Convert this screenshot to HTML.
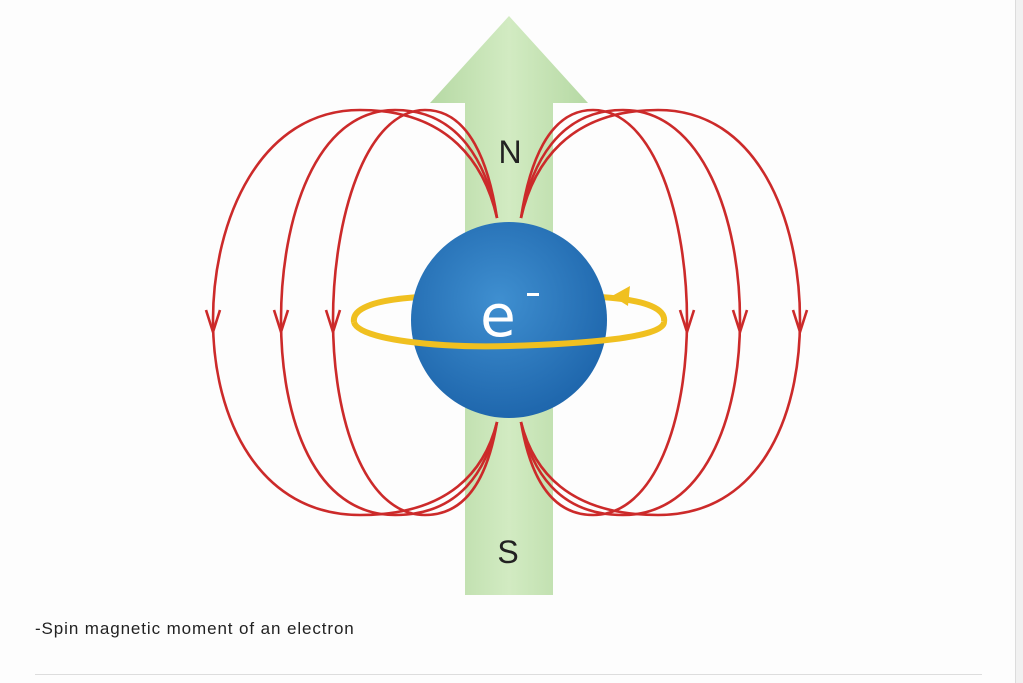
<!DOCTYPE html>
<html><head><style>
body{margin:0;width:1023px;height:683px;background:#f1f1f1;overflow:hidden;font-family:"Liberation Sans",sans-serif}
.card{position:absolute;left:0;top:0;width:1015px;height:683px;background:#fdfdfd;border-right:1px solid #dcdcdc}
.cap{position:absolute;left:35px;top:619px;font-size:17px;letter-spacing:0.9px;color:#222}
.hr{position:absolute;left:35px;top:674px;width:947px;height:1px;background:#ddd}
</style></head><body>
<div class="card">
<svg width="1015" height="683" style="position:absolute;left:0;top:0">
<defs>
<radialGradient id="g" cx="0.45" cy="0.4" r="0.6">
<stop offset="0" stop-color="#3f8fd0"/><stop offset="1" stop-color="#1f67ad"/></radialGradient>
<linearGradient id="sh" x1="0" x2="1"><stop offset="0" stop-color="#b6d9a4"/><stop offset="0.5" stop-color="#d2ebc2"/><stop offset="1" stop-color="#b6d9a4"/></linearGradient>
</defs>
<polygon points="465,595 465,103 430,103 509,16 588,103 553,103 553,595" fill="url(#sh)"/>
<text x="510" y="163" font-size="32" text-anchor="middle" fill="#222" font-family="Liberation Sans">N</text>
<text x="508" y="563" font-size="32" text-anchor="middle" fill="#222" font-family="Liberation Sans">S</text>
<g fill="none" stroke="#cc2a2a" stroke-width="2.6">
<path d="M497 218 C485 165 450 110 360 110 C260 110 213 220 213 320 C213 420 260 515 360 515 C450 515 485 470 497 422"/>
<path d="M497 218 C487 165 460 110 395 110 C315 110 281 220 281 320 C281 420 315 515 395 515 C460 515 487 470 497 422"/>
<path d="M497 218 C489 165 470 110 425 110 C365 110 333 220 333 320 C333 420 365 515 425 515 C470 515 489 470 497 422"/>
<path d="M521 218 C533 165 568 110 658 110 C758 110 800 220 800 320 C800 420 758 515 658 515 C568 515 533 470 521 422"/>
<path d="M521 218 C531 165 558 110 623 110 C703 110 740 220 740 320 C740 420 703 515 623 515 C558 515 531 470 521 422"/>
<path d="M521 218 C529 165 548 110 593 110 C655 110 687 220 687 320 C687 420 655 515 593 515 C548 515 529 470 521 422"/>
</g>
<g fill="none" stroke="#cc2a2a" stroke-width="2.6">
<path d="M206 310 L213 332 L220 310"/><path d="M274 310 L281 332 L288 310"/><path d="M326 310 L333 332 L340 310"/>
<path d="M680 310 L687 332 L694 310"/><path d="M733 310 L740 332 L747 310"/><path d="M793 310 L800 332 L807 310"/>
</g>
<path d="M420 297 C370 300 352 310 354 322" fill="none" stroke="#f0c020" stroke-width="6"/>
<path d="M600 297 C650 300 666 310 664 322" fill="none" stroke="#f0c020" stroke-width="6"/>
<ellipse cx="509" cy="320" rx="98" ry="98" fill="url(#g)"/>
<path d="M354 322 C358 340 440 348 509 346 C580 344 664 338 664 322" fill="none" stroke="#f0c020" stroke-width="6"/>
<polygon points="612,296 630,286 628,306" fill="#f0c020"/>
<text x="498" y="336" font-size="58" text-anchor="middle" fill="#fff" font-family="DejaVu Sans">e</text>
<rect x="527" y="293" width="12" height="3" fill="#fff"/>
</svg>
<div class="cap">-Spin magnetic moment of an electron</div>
<div class="hr"></div>
</div>
</body></html>
